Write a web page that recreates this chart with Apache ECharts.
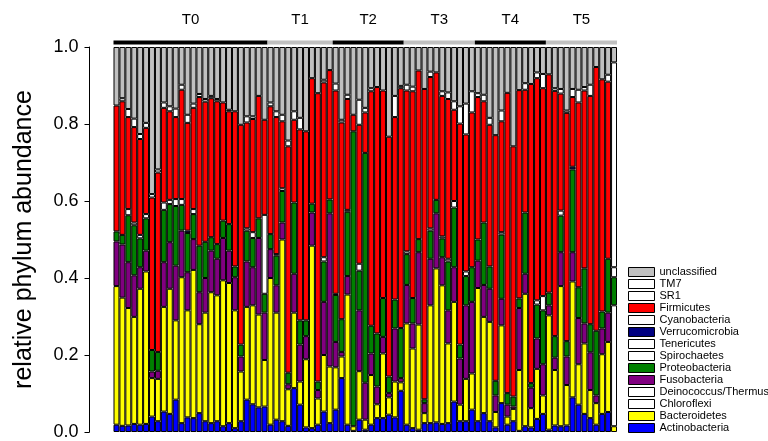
<!DOCTYPE html>
<html>
<head>
<meta charset="utf-8">
<script src="https://cdn.jsdelivr.net/npm/echarts@6/dist/echarts.min.js"></script>
<style>
    html, body { margin: 0; padding: 0; background: #fff; }
    #chart { width: 768px; height: 441px; }
</style>
</head>
<body>
<div id="chart"></div>
<script>
// time points and how many samples each one has
var groupNames = ['T0', 'T1', 'T2', 'T3', 'T4', 'T5'];
var groupSizes = [26, 11, 12, 12, 12, 12];

// relative abundance per sample, bottom of the stack first
var actinobacteria = [
    0.019, 0.016, 0.017, 0.021, 0.019, 0.021, 0.040, 0.028, 0.053, 0.047,
    0.084, 0.023, 0.038, 0.036, 0.049, 0.028, 0.023, 0.028, 0.015, 0.023,
    0.010, 0.028, 0.084, 0.072, 0.064, 0.066, 0.019, 0.032, 0.028, 0.016,
    0.114, 0.071, 0.012, 0.010, 0.019, 0.053, 0.023, 0.058, 0.140, 0.019,
    0.003, 0.032, 0.006, 0.019, 0.036, 0.036, 0.045, 0.038, 0.107, 0.019,
    0.010, 0.006, 0.023, 0.023, 0.025, 0.021, 0.023, 0.079, 0.028, 0.028,
    0.058, 0.028, 0.049, 0.028, 0.012, 0.075, 0.019, 0.028, 0.003, 0.015,
    0.012, 0.034, 0.047, 0.006, 0.017, 0.015, 0.017, 0.090, 0.071, 0.047,
    0.036, 0.019, 0.047, 0.052, 0
];
var bacteroidetes = [
    0.360, 0.333, 0.305, 0.278, 0.353, 0.396, 0.100, 0.110, 0.272, 0.325,
    0.206, 0.379, 0.278, 0.385, 0.231, 0.282, 0.340, 0.327, 0.379, 0.364,
    0.306, 0.129, 0.241, 0.257, 0.241, 0.121, 0.381, 0.278, 0.472, 0.095,
    0.196, 0.060, 0.177, 0.474, 0.068, 0.147, 0.147, 0.110, 0.056, 0.338,
    0.012, 0.126, 0.026, 0.129, 0.036, 0.168, 0.045, 0.093, 0.022, 0.263,
    0.207, 0.273, 0.026, 0.306, 0.400, 0.360, 0.207, 0.259, 0.043, 0.110,
    0.094, 0.346, 0.250, 0.258, 0.040, 0.202, 0.021, 0.032, 0.158, 0.344,
    0.050, 0.130, 0.048, 0.297, 0.144, 0.364, 0.105, 0.301, 0.105, 0.183,
    0.073, 0.056, 0.155, 0.182, 0.015
];
var chloroflexi = [
    0, 0, 0, 0, 0, 0, 0, 0, 0, 0,
    0, 0, 0, 0, 0, 0, 0, 0, 0, 0,
    0, 0, 0, 0, 0, 0, 0, 0, 0, 0,
    0, 0, 0, 0, 0, 0, 0, 0, 0, 0,
    0, 0, 0, 0, 0, 0, 0, 0, 0, 0,
    0, 0, 0, 0, 0, 0, 0, 0, 0, 0,
    0, 0, 0, 0, 0, 0, 0, 0, 0, 0,
    0, 0, 0, 0, 0, 0, 0, 0, 0, 0,
    0, 0, 0, 0, 0.314
];
var deinococcus = [
    0, 0, 0, 0, 0, 0, 0, 0, 0, 0,
    0, 0, 0, 0, 0, 0, 0, 0, 0, 0,
    0, 0, 0, 0, 0, 0, 0, 0, 0, 0,
    0, 0, 0, 0, 0, 0, 0, 0, 0, 0,
    0, 0, 0, 0, 0, 0, 0, 0, 0, 0,
    0, 0, 0, 0, 0, 0, 0, 0, 0, 0,
    0, 0, 0, 0, 0, 0, 0, 0, 0, 0,
    0, 0, 0, 0, 0, 0, 0, 0, 0, 0,
    0, 0, 0, 0, 0
];
var fusobacteria = [
    0.116, 0.138, 0.119, 0.108, 0.056, 0.054, 0.017, 0.021, 0.116, 0.121,
    0.142, 0.121, 0.099, 0.080, 0.083, 0.090, 0.108, 0.095, 0.110, 0.084,
    0.086, 0.039, 0.118, 0.099, 0.199, 0.123, 0.075, 0.071, 0.044, 0.013,
    0.101, 0.096, 0.060, 0.086, 0.022, 0.138, 0.398, 0.066, 0.012, 0.048,
    0, 0.158, 0.096, 0.056, 0.046, 0.043, 0.011, 0.138, 0.011, 0.100,
    0.065, 0.188, 0.026, 0.121, 0.143, 0.073, 0.086, 0.090, 0.120, 0.191,
    0.186, 0.071, 0.083, 0.086, 0.043, 0.069, 0.031, 0.006, 0.161, 0.052,
    0.053, 0.079, 0.081, 0.026, 0.032, 0.088, 0.074, 0.076, 0.120, 0.052,
    0.098, 0.020, 0.067, 0.076, 0
];
var proteobacteria = [
    0.026, 0.025, 0.122, 0.130, 0.075, 0.084, 0.056, 0.049, 0.136, 0.099,
    0.155, 0.067, 0.102, 0.065, 0.121, 0.094, 0.035, 0.038, 0.045, 0.069,
    0.028, 0.031, 0.080, 0.076, 0.051, 0.049, 0.039, 0.077, 0.082, 0.030,
    0.185, 0.063, 0.041, 0.023, 0.022, 0.105, 0.036, 0.122, 0.085, 0.167,
    0.766, 0.103, 0.597, 0.072, 0.138, 0.101, 0.043, 0.075, 0.130, 0.080,
    0.066, 0.034, 0.010, 0.073, 0.035, 0.049, 0.127, 0.155, 0.036, 0.076,
    0.090, 0.055, 0.162, 0.058, 0.038, 0.167, 0.030, 0.026, 0.025, 0.159,
    0.012, 0.088, 0.140, 0.033, 0.056, 0.095, 0.040, 0.215, 0.080, 0.143,
    0.073, 0.168, 0.044, 0.140, 0.073
];
var spirochaetes = [
    0, 0, 0.016, 0.007, 0.009, 0.011, 0, 0, 0.019, 0.011,
    0.018, 0.015, 0, 0.013, 0, 0, 0, 0, 0, 0,
    0, 0, 0.006, 0.015, 0, 0, 0, 0.004, 0.007, 0,
    0, 0, 0, 0, 0, 0.011, 0, 0.003, 0, 0.005,
    0, 0.018, 0, 0, 0, 0, 0, 0, 0, 0.007,
    0, 0, 0, 0.006, 0, 0.005, 0.007, 0.017, 0, 0.012,
    0, 0, 0, 0, 0, 0.006, 0, 0, 0, 0,
    0, 0.011, 0.037, 0, 0, 0.013, 0, 0, 0, 0,
    0, 0, 0, 0, 0.026
];
var tenericutes = [
    0, 0, 0, 0, 0, 0, 0, 0, 0, 0,
    0, 0, 0, 0, 0, 0, 0, 0, 0, 0,
    0, 0, 0, 0, 0, 0.205, 0, 0, 0, 0,
    0, 0, 0, 0, 0, 0, 0, 0, 0, 0,
    0, 0, 0, 0, 0, 0, 0, 0, 0, 0,
    0, 0, 0, 0, 0, 0, 0, 0, 0, 0,
    0, 0, 0, 0, 0, 0, 0, 0, 0, 0,
    0, 0, 0, 0, 0, 0, 0, 0, 0, 0,
    0, 0, 0, 0, 0
];
var verrucomicrobia = [
    0, 0, 0, 0, 0, 0, 0, 0, 0, 0,
    0, 0, 0.006, 0, 0, 0, 0, 0, 0, 0,
    0, 0, 0, 0, 0, 0, 0, 0, 0, 0,
    0, 0, 0, 0, 0, 0, 0, 0, 0, 0,
    0, 0, 0, 0, 0, 0, 0, 0, 0, 0,
    0, 0, 0, 0, 0, 0, 0, 0, 0, 0,
    0, 0, 0, 0, 0, 0, 0, 0, 0, 0,
    0, 0, 0, 0, 0, 0, 0, 0.007, 0, 0,
    0, 0, 0, 0, 0
];
var cyanobacteria = [
    0, 0, 0, 0, 0, 0, 0, 0, 0, 0,
    0, 0, 0, 0, 0, 0, 0, 0, 0, 0,
    0, 0, 0, 0, 0, 0, 0, 0, 0, 0,
    0, 0, 0, 0, 0, 0, 0, 0, 0, 0,
    0, 0, 0, 0, 0, 0, 0, 0, 0, 0,
    0, 0, 0, 0, 0, 0, 0, 0, 0, 0,
    0, 0, 0, 0, 0, 0, 0, 0, 0, 0,
    0, 0, 0, 0, 0, 0, 0, 0, 0, 0,
    0, 0, 0, 0, 0.532
];
var firmicutes = [
    0.327, 0.347, 0.239, 0.248, 0.249, 0.224, 0.396, 0.466, 0.246, 0.230,
    0.213, 0.284, 0.280, 0.263, 0.386, 0.364, 0.361, 0.371, 0.307, 0.293,
    0.403, 0.571, 0.275, 0.294, 0.318, 0.247, 0.332, 0.356, 0.174, 0.588,
    0.215, 0.496, 0.491, 0.326, 0.749, 0.454, 0.336, 0.528, 0.511, 0.288,
    0.043, 0.361, 0.105, 0.609, 0.640, 0.539, 0.623, 0.474, 0.623, 0.418,
    0.537, 0.438, 0.806, 0.393, 0.331, 0.365, 0.415, 0.237, 0.574, 0.356,
    0.402, 0.370, 0.315, 0.368, 0.638, 0.288, 0.780, 0.650, 0.541, 0.319,
    0.777, 0.577, 0.540, 0.567, 0.637, 0.304, 0.593, 0.181, 0.480, 0.462,
    0.593, 0.685, 0.603, 0.460, 0
];
var sr1 = [
    0, 0, 0, 0, 0, 0, 0, 0, 0, 0,
    0, 0, 0, 0, 0, 0, 0, 0, 0, 0,
    0, 0, 0, 0, 0, 0, 0, 0, 0, 0,
    0, 0, 0, 0, 0, 0, 0, 0, 0, 0,
    0, 0, 0, 0, 0, 0, 0, 0, 0, 0,
    0, 0, 0, 0, 0, 0, 0, 0, 0, 0,
    0, 0, 0, 0, 0, 0, 0, 0, 0, 0,
    0, 0, 0, 0, 0, 0, 0, 0, 0, 0,
    0, 0, 0, 0, 0
];
var tm7 = [
    0, 0.008, 0.021, 0.022, 0.013, 0.013, 0.009, 0.008, 0.014, 0.013,
    0.022, 0.013, 0.021, 0.011, 0.008, 0.007, 0.006, 0.006, 0, 0.004,
    0, 0, 0.016, 0.007, 0, 0, 0.010, 0.015, 0.017, 0.015,
    0.022, 0.030, 0, 0, 0, 0.007, 0, 0.018, 0.007, 0.011,
    0, 0.065, 0.012, 0.008, 0, 0, 0, 0.055, 0.006, 0.015,
    0.012, 0, 0, 0.014, 0, 0.012, 0.017, 0.022, 0.045, 0.080,
    0.055, 0.010, 0.017, 0.018, 0, 0.028, 0, 0, 0, 0.017,
    0, 0.015, 0.037, 0, 0.007, 0.012, 0.006, 0.021, 0.033, 0.009,
    0.029, 0, 0, 0.018, 0
];
var unclassified = [
    0.152, 0.133, 0.161, 0.186, 0.226, 0.197, 0.382, 0.318, 0.144, 0.154,
    0.160, 0.098, 0.176, 0.147, 0.122, 0.135, 0.127, 0.135, 0.144, 0.163,
    0.167, 0.202, 0.180, 0.180, 0.127, 0.189, 0.144, 0.167, 0.176, 0.243,
    0.167, 0.184, 0.219, 0.081, 0.120, 0.085, 0.060, 0.095, 0.189, 0.124,
    0.176, 0.137, 0.158, 0.107, 0.104, 0.113, 0.233, 0.127, 0.101, 0.098,
    0.103, 0.061, 0.109, 0.064, 0.066, 0.115, 0.118, 0.141, 0.154, 0.147,
    0.115, 0.120, 0.124, 0.184, 0.229, 0.165, 0.119, 0.258, 0.112, 0.094,
    0.096, 0.066, 0.070, 0.071, 0.107, 0.109, 0.165, 0.109, 0.111, 0.104,
    0.098, 0.052, 0.084, 0.072, 0.040
];

// stacking order (bottom -> top) with fill colours
var phyla = [
    ['Actinobacteria', actinobacteria, '#0000ff'],
    ['Bacteroidetes', bacteroidetes, '#ffff00'],
    ['Chloroflexi', chloroflexi, '#ffffff'],
    ['Deinococcus/Thermus', deinococcus, '#ffffff'],
    ['Fusobacteria', fusobacteria, '#800080'],
    ['Proteobacteria', proteobacteria, '#008000'],
    ['Spirochaetes', spirochaetes, '#ffffff'],
    ['Tenericutes', tenericutes, '#ffffff'],
    ['Verrucomicrobia', verrucomicrobia, '#000080'],
    ['Cyanobacteria', cyanobacteria, '#ffffff'],
    ['Firmicutes', firmicutes, '#ff0000'],
    ['SR1', sr1, '#ffffff'],
    ['TM7', tm7, '#ffffff'],
    ['unclassified', unclassified, '#c0c0c0']
];

var fontFamily = 'Liberation Sans, Arial, sans-serif';

var samples = [];
groupNames.forEach(function (g, i) {
    for (var j = 0; j < groupSizes[i]; j++) {
        samples.push(g + '_' + (j + 1));
    }
});

var series = phyla.map(function (p) {
    return {
        name: p[0],
        type: 'bar',
        stack: 'total',
        barCategoryGap: '0%',
        itemStyle: { color: p[2], borderColor: '#000', borderWidth: 1 },
        emphasis: { disabled: true },
        data: p[1].map(function (v) { return v > 0 ? v : '-'; })
    };
});

var chart = echarts.init(document.getElementById('chart'));

var option = {
    animation: false,
    textStyle: { fontFamily: fontFamily },
    grid: { left: 113.5, right: 151, top: 47, height: 387 },
    legend: {
        orient: 'vertical',
        left: 628,
        top: 266,
        padding: 0,
        itemWidth: 26,
        itemHeight: 9,
        itemGap: 0,
        icon: 'rect',
        selectedMode: false,
        itemStyle: { borderColor: '#000', borderWidth: 1 },
        textStyle: { fontSize: 11, lineHeight: 12, color: '#000', fontFamily: fontFamily },
        data: phyla.map(function (p) { return p[0]; }).reverse()
    },
    xAxis: { type: 'category', data: samples, show: false },
    yAxis: {
        type: 'value',
        min: 0,
        max: 1,
        interval: 0.2,
        offset: 24,
        name: 'relative phylum abundance',
        nameLocation: 'middle',
        nameGap: 53,
        nameTextStyle: { fontSize: 25, color: '#000', fontFamily: fontFamily },
        axisLine: { show: true, lineStyle: { color: '#000', width: 1 } },
        axisTick: { show: true, length: 5, lineStyle: { color: '#000' } },
        axisLabel: {
            fontSize: 18,
            color: '#000',
            margin: 11,
            formatter: function (v) { return v.toFixed(1); }
        },
        splitLine: { show: false }
    },
    series: series
};

chart.setOption(option);

// time point bands (black / grey) and their labels, placed from the x axis
var bw = chart.convertToPixel({ xAxisIndex: 0 }, 1) - chart.convertToPixel({ xAxisIndex: 0 }, 0);
var graphics = [];
var start = 0;
groupNames.forEach(function (g, i) {
    var x0 = chart.convertToPixel({ xAxisIndex: 0 }, start) - bw / 2;
    var x1 = chart.convertToPixel({ xAxisIndex: 0 }, start + groupSizes[i] - 1) + bw / 2;
    graphics.push({
        type: 'rect',
        shape: { x: x0, y: 40.5, width: x1 - x0, height: 4 },
        style: { fill: i % 2 === 0 ? '#000000' : '#c0c0c0' },
        silent: true
    });
    graphics.push({
        type: 'text',
        x: (x0 + x1) / 2,
        y: 20,
        style: {
            text: g,
            fill: '#000',
            font: '15px ' + fontFamily,
            align: 'center',
            verticalAlign: 'middle'
        },
        silent: true
    });
    start += groupSizes[i];
});
chart.setOption({ graphic: graphics });
</script>
</body>
</html>
